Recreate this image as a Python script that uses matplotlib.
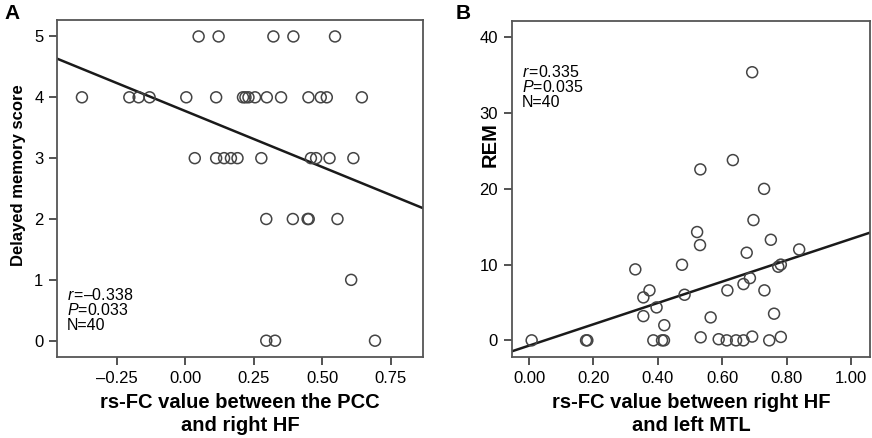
import numpy as np
import matplotlib
matplotlib.use("Agg")
import matplotlib.pyplot as plt
from matplotlib.ticker import FixedLocator, FuncFormatter

# panel A: rs-FC (PCC - right HF) vs delayed memory score
a_x = [0.049, 0.122, 0.322, 0.395, 0.547,
       -0.377, -0.204, -0.170, -0.130, 0.004, 0.113, 0.211, 0.220, 0.231, 0.255,
       0.298, 0.350, 0.450, 0.495, 0.517, 0.645,
       0.035, 0.113, 0.142, 0.167, 0.191, 0.278, 0.459, 0.478, 0.527, 0.614,
       0.296, 0.393, 0.447, 0.451, 0.556,
       0.606,
       0.296, 0.328, 0.693]
a_y = [5] * 5 + [4] * 16 + [3] * 10 + [2] * 5 + [1] + [0] * 3

# panel B: rs-FC (right HF - left MTL) vs REM
b_x = [0.008, 0.177, 0.181, 0.330, 0.355, 0.374, 0.355, 0.396, 0.386, 0.413,
       0.419, 0.420, 0.475, 0.483, 0.522, 0.531, 0.532, 0.533, 0.564, 0.589,
       0.614, 0.616, 0.633, 0.643, 0.666, 0.666, 0.676, 0.686, 0.693, 0.693,
       0.697, 0.730, 0.731, 0.746, 0.751, 0.761, 0.774, 0.782, 0.782, 0.839]
b_y = [0, 0, 0, 9.37, 5.67, 6.6, 3.2, 4.35, 0, 0,
       0, 2.0, 9.98, 6.02, 14.3, 12.58, 22.57, 0.4, 3.03, 0.15,
       0, 6.6, 23.8, 0, 0, 7.43, 11.57, 8.22, 35.4, 0.5,
       15.88, 20.0, 6.6, 0, 13.28, 3.52, 9.72, 10.0, 0.45, 12.0]

a_stats = ["$r$\u200a=\u20130.338", "$P$=0.033", "N=40"]
b_stats = ["$r$\u200a=0.335", "$P$=0.035", "N=40"]

a_xticks = [-0.25, 0.0, 0.25, 0.50, 0.75]
a_yticks = [0, 1, 2, 3, 4, 5]
b_xticks = [0.0, 0.2, 0.4, 0.6, 0.8, 1.0]
b_yticks = [0, 10, 20, 30, 40]

plt.rcParams['font.family'] = ['Liberation Sans', 'DejaVu Sans']
plt.rcParams['mathtext.fontset'] = 'custom'
plt.rcParams['mathtext.it'] = 'Liberation Sans:italic'
plt.rcParams['mathtext.rm'] = 'Liberation Sans'

fig = plt.figure(figsize=(8.72, 4.38), dpi=100)
axA = fig.add_axes([0.0657, 0.1842, 0.4190, 0.7701])
axB = fig.add_axes([0.5868, 0.1842, 0.4109, 0.7685])

def fmt_minus(v, pos):
    s = "%.2f" % v
    return s.replace("-", "\u2013")

def style(ax, xt, yt):
    for s in ax.spines.values():
        s.set_color("#555555")
        s.set_linewidth(1.3)
    ax.xaxis.set_major_locator(FixedLocator(xt))
    ax.yaxis.set_major_locator(FixedLocator(yt))
    ax.xaxis.set_major_formatter(FuncFormatter(fmt_minus))
    ax.tick_params(direction="out", length=6, width=1.3, color="#444444",
                   labelsize=12, pad=4)

def draw(ax, xs, ys, xlim, ylim):
    xs = np.array(xs)
    ys = np.array(ys)
    ax.scatter(xs, ys, s=62, facecolors="none", edgecolors="#444444",
               linewidths=1.1, zorder=3)
    k, b = np.polyfit(xs, ys, 1)
    lx = np.array(xlim)
    ax.plot(lx, k * lx + b, color="#1a1a1a", lw=1.8, zorder=2)
    ax.set_xlim(xlim)
    ax.set_ylim(ylim)

draw(axA, a_x, a_y, (-0.467, 0.867), (-0.273, 5.27))
draw(axB, b_x, b_y, (-0.054, 1.059), (-2.24, 42.2))
style(axA, a_xticks, a_yticks)
style(axB, b_xticks, b_yticks)

for i, t in enumerate(a_stats):
    axA.text(0.027, 0.185 - i * 0.046, t, transform=axA.transAxes, fontsize=11.5,
             va="center", ha="left")
for i, t in enumerate(b_stats):
    axB.text(0.028, 0.848 - i * 0.046, t, transform=axB.transAxes, fontsize=11.5,
             va="center", ha="left")

axA.set_xlabel("rs-FC value between the PCC\nand right HF", fontsize=14.5,
               fontweight="bold", labelpad=5, linespacing=1.25)
axB.set_xlabel("rs-FC value between right HF\nand left MTL", fontsize=14.5,
               fontweight="bold", labelpad=5, linespacing=1.25)
axA.set_ylabel("Delayed memory score", fontsize=12, fontweight="bold")
axA.yaxis.set_label_coords(-0.085, 0.54)
axB.set_ylabel("REM", fontsize=14.5, fontweight="bold")
axB.yaxis.set_label_coords(-0.033, 0.631)

fig.text(0.005, 0.992, "A", fontsize=15, fontweight="bold", va="top", ha="left")
fig.text(0.522, 0.992, "B", fontsize=15, fontweight="bold", va="top", ha="left")

fig.savefig("out.png", dpi=100)
